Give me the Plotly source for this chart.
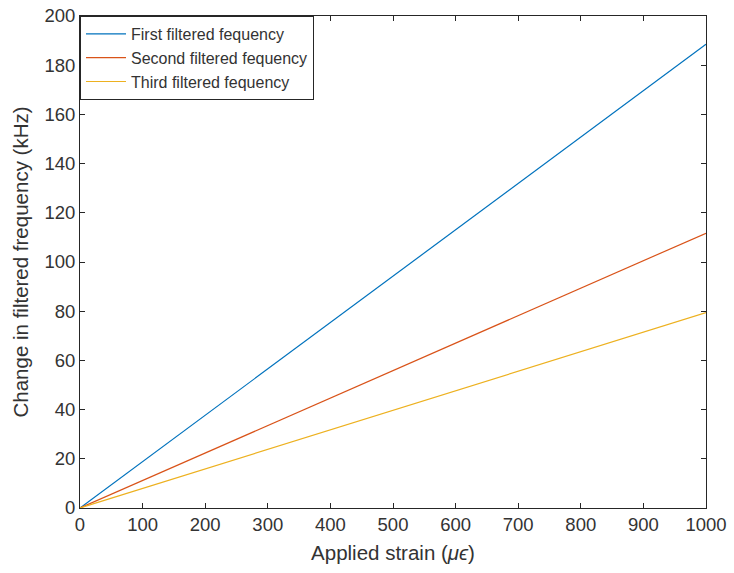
import plotly.graph_objects as go

strain = [0, 1000]
first = [0, 188.5]
second = [0, 111.7]
third = [0, 79.4]
names = ["First filtered fequency", "Second filtered fequency", "Third filtered fequency"]
colors = ["#0072BD", "#D95319", "#EDB120"]

fig = go.Figure()
for y, n, c in zip([first, second, third], names, colors):
    fig.add_trace(go.Scatter(x=strain, y=y, mode="lines", name=n,
                             line=dict(color=c, width=1.2)))

axis_common = dict(showgrid=False, zeroline=False, ticks="inside", ticklen=5,
                   tickcolor="#262626", showline=True, linecolor="#262626",
                   linewidth=1, mirror="ticks", automargin=False,
                   tickfont=dict(size=18.5, color="#333333"))
fig.update_xaxes(range=[0, 1000], dtick=100, **axis_common,
                 title=dict(text="Applied strain (<i>μϵ</i>)", font=dict(size=20.5, color="#333333"), standoff=11))
fig.update_yaxes(range=[0, 200], dtick=20, **axis_common,
                 title=dict(text="Change in filtered frequency (kHz)", font=dict(size=20.5, color="#333333"), standoff=10))

fig.update_layout(
    width=734, height=573,
    margin=dict(l=80, r=28, t=16, b=65),
    paper_bgcolor="white", plot_bgcolor="white",
    font=dict(family="Liberation Sans, Arial, sans-serif", color="#333333"),
    legend=dict(x=0, y=1, xanchor="left", yanchor="top",
                bordercolor="#262626", borderwidth=1, bgcolor="white",
                font=dict(size=16, color="#333333"),
                tracegroupgap=0, itemwidth=40),
)
fig.write_html("out.html")
